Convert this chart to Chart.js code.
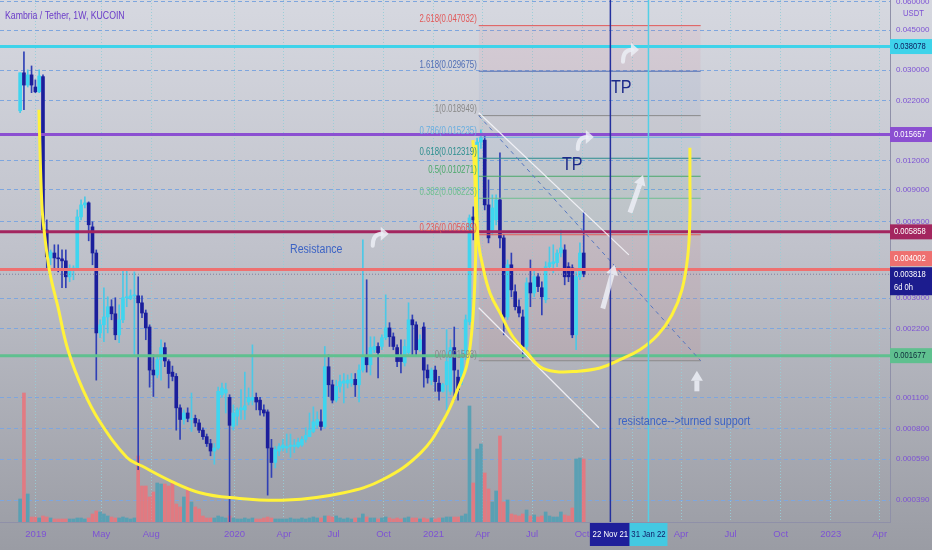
<!DOCTYPE html>
<html>
<head>
<meta charset="utf-8">
<script src="https://cdn.jsdelivr.net/npm/chart.js@4.4.1/dist/chart.umd.min.js"></script>
<style>
  html, body { margin: 0; padding: 0; }
  body { width: 932px; height: 550px; overflow: hidden;
         background: linear-gradient(180deg, #d6d8e0 0%, #c0c2cb 45%, #9a9ca4 100%); }
</style>
</head>
<body>
<canvas id="chart" width="932" height="550"></canvas>
<script>
// weekly candles KAI/USDT, first week starts 2018-12-03
var opens = [.0199,.0292,.0258,.0286,.0253,.0241,.0281,.00597,.00450,.00473,
  .00450,.00446,.00437,.00372,.00399,.00407,.00681,.00769,.00785,.00616,
  .00473,.00211,.00229,.00248,.00275,.00256,.00207,.00241,.00301,.00298,
  .00307,.00307,.00286,.00258,.00224,.00145,.00138,.00161,.00182,.00158,
  .00142,.00136,.00099,.00088,.00094,.00088,.00089,.00085,.00079,.00074,
  .00069,.00064,.00066,.00113,.00115,.00110,.00082,.00091,.00097,.00097,
  .00105,.00107,.00110,.00107,.00097,.00095,.00066,.00057,.00064,.00066,
  .00066,.00067,.00067,.00067,.00068,.00072,.00074,.00078,.00083,.00086,
  .00082,.00150,.00125,.00107,.00123,.00127,.00127,.00127,.00132,.00125,
  .00145,.00166,.00153,.00178,.00184,.00184,.00201,.00222,.00203,.00182,
  .00166,.00156,.00173,.00241,.00229,.00178,.00224,.00145,.00131,.00145,
  .00127,.00117,.00125,.00117,.00182,.00135,.00131,.00166,.00236,.00681,
  .00661,.0145,.0148,.00769,.00597,.00661,.00809,.00551,.00248,.00420,
  .00320,.00275,.00248,.00184,.00350,.00316,.00372,.00333,.00295,.00412,
  .00424,.00429,.00473,.00488,.00412,.00407,.00207,.00372,.00473];
var highs = [.0292,.0361,.0301,.0313,.0272,.0301,.0286,.00661,.00488,.00514,
  .00514,.00488,.00488,.00420,.00416,.00731,.00809,.00834,.00793,.00648,
  .00488,.00241,.00333,.00304,.00295,.00301,.00280,.00399,.00399,.00326,
  .00391,.00372,.00307,.00266,.00229,.00169,.00169,.00197,.00191,.00161,
  .00151,.00140,.00102,.00097,.00099,.00115,.00092,.00088,.00081,.00076,
  .00072,.00069,.00122,.00127,.00127,.00113,.00102,.00099,.00119,.00142,
  .00121,.00187,.00115,.00110,.00102,.00097,.00072,.00067,.00069,.00072,
  .00076,.00076,.00072,.00073,.00074,.00081,.00094,.00100,.00095,.00097,
  .00184,.00169,.00131,.00131,.00138,.00140,.00138,.00140,.00140,.00153,
  .00540,.00361,.00203,.00203,.00191,.00207,.00310,.00234,.00211,.00187,
  .00197,.00197,.00286,.00253,.00236,.00207,.00234,.00153,.00148,.00151,
  .00136,.00127,.00218,.00197,.00224,.00145,.00178,.00253,.00695,.00754,
  .0151,.0164,.0156,.00990,.00851,.00851,.0130,.00568,.00441,.00473,
  .00343,.00295,.00266,.00368,.00441,.00399,.00384,.00354,.00433,.00503,
  .00514,.00488,.00597,.00514,.00429,.00420,.00391,.00524,.00717];
var lows = [.0195,.0201,.0253,.0239,.0239,.0239,.00585,.00399,.00420,.00399,
  .00391,.00333,.00333,.00354,.00361,.00399,.00661,.00746,.00535,.00420,
  .00131,.00201,.00193,.00211,.00241,.00197,.00191,.00234,.00275,.00295,
  .00166,.00053,.00246,.00197,.00122,.00111,.00134,.00131,.00150,.00121,
  .00130,.00079,.00072,.00084,.00086,.00078,.00082,.00077,.00072,.00067,
  .00061,.00056,.00065,.00110,.00094,.00025,.00079,.00083,.00088,.00088,
  .00102,.00102,.00097,.00092,.00091,.00041,.00049,.00054,.00061,.00064,
  .00063,.00060,.00063,.00066,.00067,.00070,.00074,.00077,.00081,.00079,
  .00081,.00111,.00104,.00105,.00116,.00104,.00121,.00123,.00111,.00105,
  .00142,.00142,.00138,.00173,.00134,.00178,.00197,.00184,.00178,.00150,
  .00141,.00151,.00169,.00166,.00169,.00175,.00122,.00127,.00125,.00117,
  .00107,.00116,.00097,.00113,.00107,.00107,.00125,.00161,.00229,.00540,
  .00648,.0136,.00731,.00524,.00568,.00629,.00498,.00207,.00241,.00304,
  .00266,.00248,.00164,.00178,.00275,.00304,.00320,.00253,.00286,.00399,
  .00387,.00412,.00455,.00343,.00354,.00201,.00178,.00361,.00372];
var closes = [.0292,.0258,.0286,.0258,.0241,.0283,.00597,.00455,.00478,.00450,
  .00446,.00437,.00372,.00403,.00407,.00681,.00769,.00785,.00629,.00473,
  .00211,.00229,.00248,.00275,.00256,.00207,.00241,.00301,.00304,.00307,
  .00310,.00286,.00258,.00222,.00145,.00138,.00161,.00182,.00159,.00140,
  .00136,.00099,.00088,.00094,.00089,.00089,.00085,.00079,.00074,.00069,
  .00064,.00066,.00117,.00121,.00119,.00083,.00094,.00097,.00099,.00101,
  .00110,.00110,.00105,.00097,.00094,.00066,.00057,.00065,.00067,.00068,
  .00067,.00068,.00068,.00070,.00072,.00075,.00079,.00086,.00088,.00082,
  .00150,.00125,.00107,.00123,.00129,.00130,.00131,.00132,.00125,.00145,
  .00166,.00153,.00182,.00184,.00173,.00201,.00222,.00203,.00184,.00158,
  .00158,.00184,.00241,.00229,.00178,.00197,.00145,.00134,.00145,.00129,
  .00117,.00125,.00158,.00182,.00145,.00119,.00164,.00241,.00674,.00661,
  .0145,.0151,.00769,.00551,.00746,.00809,.00551,.00248,.00420,.00326,
  .00275,.00258,.00184,.00350,.00316,.00372,.00337,.00304,.00412,.00429,
  .00433,.00473,.00498,.00372,.00372,.00207,.00372,.00473,.003818];
var volumes = [23,129,28,5,5,4,6,5,4,3,
  3,3,3,3,3,4,4,3,4,8,
  11,10,8,6,5,4,4,5,4,3,
  4,66,36,36,25,30,39,38,38,36,
  41,18,15,25,35,20,15,13,6,4,
  4,4,6,5,4,6,4,3,3,4,
  3,4,3,3,4,5,4,3,3,3,
  3,4,3,3,4,3,4,5,4,4,
  6,6,5,6,4,3,4,3,4,4,
  8,5,4,4,3,4,5,4,3,4,
  3,4,5,4,4,3,4,3,4,3,
  4,4,5,5,5,5,6,8,116,39,
  73,78,49,33,20,31,86,20,22,8,
  7,6,8,12,6,7,5,6,10,6,
  5,5,10,7,6,14,63,64,63];

// x axis: days since 2019-01-01
var xTickDays = [0,120,212,365,456,547,639,731,821,912,1004,1096,1186,1277,1369,1461,1551];
var xTickLabels = ['2019','May','Aug','2020','Apr','Jul','Oct','2021','Apr','Jul','Oct','2022','Apr','Jul','Oct','2023','Apr'];
var yTicks = [0.06,0.045,0.03,0.022,0.012,0.009,0.0065,0.003,0.0022,0.0011,0.0008,0.00059,0.00039];

var levelPrices = [0.038078, 0.015657, 0.005858, 0.004002, 0.001677];
var lastPrice = 0.003818;
var fibRatios = [2.618, 1.618, 1, 0.786, 0.618, 0.5, 0.382, 0.236, 0];
var fibPrices = [0.047032, 0.029675, 0.018949, 0.015235, 0.012319, 0.010271, 0.008223, 0.005689, 0.001593];
var fibStart = 814, fibEnd = 1222;
var markerDays = [1056, 1126];
var markerLabels = ['22 Nov 21', '31 Jan 22'];

// hand drawn shapes, [day, price]
var bigCup = [[5.5,.0201],[11,.00769],[16.5,.00556],[25.7,.00387],[40.4,.00275],[58.8,.00178],
  [86.4,.00119],[117.6,.00086],[167.3,.00060],[194.9,.00055],[250,.00047],[301.5,.00042],
  [356.6,.00040],[461.4,.00039],[566.2,.00042],[637.9,.00048],[707.7,.00063],[750,.00088],
  [777.6,.00123],[792.3,.00153],[801.5,.00218],[807,.00361],[808.8,.00597],[807,.00990],[803.3,.0148]];
var smallCup = [[808.8,.0141],[812.5,.00557],[821.7,.00412],[834.6,.00316],[852.9,.00259],[876.8,.00203],
  [902.6,.00173],[926.5,.00150],[954,.00143],[990.8,.00143],[1036.8,.00148],[1073.5,.00161],
  [1110.3,.00178],[1143.4,.00207],[1169.1,.00253],[1187.5,.00326],[1198.5,.00464],[1202.2,.00695],
  [1202.2,.00990],[1202.2,.0137]];
var upperTrend = [[814,.0195],[1090,.00464]];
var lowerTrend = [[814,.00272],[1035,.00081]];

var FAMILY = "'Liberation Sans', Arial, sans-serif";
var X_MIN = -66, X_MAX = 1570;
var Y_MIN = 0.0003125, Y_MAX = 0.06093;
var AXIS_TEXT = '#7d52d4';
var ARROW = 'rgba(236,238,246,0.85)';

var levelColors = ['#3ed3ea', '#8b4fd1', '#a3265f', '#ee7070', '#5fc08f'];
var levelText = ['#0d1a5c', '#ffffff', '#ffffff', '#ffffff', '#0d2a3a'];
var fibColors = ['#e25858','#4f6eb5','#8a8a8a','#69aee0','#2c8e8e','#4aa86a','#6fbf8f','#e25858','#8a8a8a'];
var fibZones = ['rgba(226,88,110,0.08)','rgba(79,110,181,0.07)','rgba(140,140,140,0.06)','rgba(105,174,224,0.06)',
  'rgba(44,142,142,0.06)','rgba(74,168,106,0.06)','rgba(111,191,143,0.06)','rgba(226,88,88,0.09)'];

var firstWeek = -29;
var weekDays = opens.map(function (o, i) { return firstWeek + 7 * i; });
var isUp = closes.map(function (c, i) { return c >= opens[i]; });

function seg(points, style) {
  return Object.assign({ type: 'line', data: points.map(function (p) { return { x: p[0], y: p[1] }; }),
    pointRadius: 0, fill: false, borderWidth: 1 }, style);
}

var datasets = [];
datasets.push({ type: 'bar', yAxisID: 'yv', order: 40, grouped: false, barThickness: 3,
  data: weekDays.map(function (d, i) { return { x: d, y: volumes[i] }; }),
  backgroundColor: isUp.map(function (u) { return u ? 'rgba(84,160,180,0.92)' : 'rgba(230,118,126,0.92)'; }) });

for (var k = 0; k < fibPrices.length - 1; k++) {
  datasets.push(seg([[fibStart, fibPrices[k]], [fibEnd, fibPrices[k]]],
    { borderWidth: 0, fill: { value: fibPrices[k + 1] }, backgroundColor: fibZones[k], order: 35 }));
}

datasets.push({ type: 'bar', order: 30, grouped: false, barThickness: 1,
  data: weekDays.map(function (d, i) { return { x: d, y: [lows[i], highs[i]] }; }),
  backgroundColor: isUp.map(function (u) { return u ? '#4cc8e6' : '#3040b6'; }) });
datasets.push({ type: 'bar', order: 29, grouped: false, barThickness: 3, minBarLength: 1,
  data: weekDays.map(function (d, i) { return { x: d, y: [opens[i], closes[i]] }; }),
  backgroundColor: isUp.map(function (u) { return u ? '#3fd5ef' : '#1b1e9c'; }) });

fibPrices.forEach(function (p, k) {
  datasets.push(seg([[fibStart, p], [fibEnd, p]], { borderColor: fibColors[k], order: 25 }));
});
levelPrices.forEach(function (p, k) {
  datasets.push(seg([[X_MIN, p], [X_MAX, p]], { borderColor: levelColors[k], borderWidth: 3, order: 20 }));
});
datasets.push(seg([[X_MIN, lastPrice], [X_MAX, lastPrice]], { borderColor: '#7e80a0', borderDash: [1, 2], order: 19 }));

datasets.push(seg([[fibStart, fibPrices[2]], [fibEnd, fibPrices[8]]], { borderColor: '#5677c0', borderDash: [4, 4], order: 15 }));
datasets.push(seg(upperTrend, { borderColor: 'rgba(245,245,250,0.9)', borderWidth: 1.2, order: 15 }));
datasets.push(seg(lowerTrend, { borderColor: 'rgba(245,245,250,0.9)', borderWidth: 1.2, order: 15 }));

datasets.push(seg(bigCup, { borderColor: '#fff23a', borderWidth: 3, tension: 0.4, order: 10 }));
datasets.push(seg(smallCup, { borderColor: '#fff23a', borderWidth: 3, tension: 0.4, order: 10 }));

datasets.push(seg([[markerDays[0], 0.0001], [markerDays[0], 0.1]], { borderColor: '#24309e', borderWidth: 1.5, order: 5 }));
datasets.push(seg([[markerDays[1], 0.0001], [markerDays[1], 0.1]], { borderColor: '#52cfe6', borderWidth: 1.5, order: 5 }));

// narrow text: TradingView's font is condensed, squeeze Liberation Sans a bit
function text(ctx, str, x, y, size, squeeze, align) {
  ctx.save();
  ctx.font = size + 'px ' + FAMILY;
  ctx.textAlign = align || 'left';
  ctx.translate(x, y); ctx.scale(squeeze, 1);
  ctx.fillText(str, 0, 0);
  ctx.restore();
}
function curvedArrow(ctx, cx, cy) {
  ctx.strokeStyle = ARROW; ctx.fillStyle = ARROW; ctx.lineWidth = 4; ctx.lineCap = 'round';
  ctx.beginPath(); ctx.moveTo(cx - 7, cy + 9); ctx.quadraticCurveTo(cx - 7, cy - 3, cx + 2, cy - 3); ctx.stroke();
  ctx.beginPath(); ctx.moveTo(cx + 1, cy - 10); ctx.lineTo(cx + 9, cy - 3); ctx.lineTo(cx + 1, cy + 4); ctx.closePath(); ctx.fill();
}
function straightArrow(ctx, x1, y1, x2, y2) {
  var a = Math.atan2(y2 - y1, x2 - x1);
  var hx = x2 - 10 * Math.cos(a), hy = y2 - 10 * Math.sin(a);
  ctx.strokeStyle = ARROW; ctx.fillStyle = ARROW; ctx.lineWidth = 5; ctx.lineCap = 'butt';
  ctx.beginPath(); ctx.moveTo(x1, y1); ctx.lineTo(hx, hy); ctx.stroke();
  ctx.beginPath(); ctx.moveTo(x2, y2);
  ctx.lineTo(hx + 6 * Math.cos(a + Math.PI / 2), hy + 6 * Math.sin(a + Math.PI / 2));
  ctx.lineTo(hx - 6 * Math.cos(a + Math.PI / 2), hy - 6 * Math.sin(a + Math.PI / 2));
  ctx.closePath(); ctx.fill();
}
function tag(ctx, x, yc, w, h, bg, fg, lines) {
  ctx.fillStyle = bg; ctx.fillRect(x, yc - h / 2, w, h);
  ctx.fillStyle = fg; ctx.textBaseline = 'middle';
  lines.forEach(function (t, i) { text(ctx, t, x + 4, yc - (lines.length - 1) * 6.5 + i * 13, 9.5, 0.8); });
}

var overlay = {
  id: 'overlay',
  afterDatasetsDraw: function (chart) {
    var ctx = chart.ctx, sx = chart.scales.x, sy = chart.scales.y;
    var px = function (d) { return sx.getPixelForValue(d); };
    var py = function (v) { return sy.getPixelForValue(v); };
    ctx.save();
    ctx.textBaseline = 'bottom';
    fibRatios.forEach(function (r, k) {
      ctx.fillStyle = fibColors[k];
      text(ctx, r + '(' + fibPrices[k].toFixed(6) + ')', px(fibStart) - 2, py(fibPrices[k]) - 1, 10, 0.78, 'right');
    });
    ctx.textBaseline = 'middle';
    ctx.fillStyle = '#3c63c4';
    text(ctx, 'Resistance', px(467), py(0.00488), 12.5, 0.85);
    text(ctx, 'resistance-->turned support', px(1070), py(0.00086), 12, 0.9);
    ctx.fillStyle = '#1c2a8a';
    text(ctx, 'TP', px(1057), py(0.025), 19, 0.85);
    text(ctx, 'TP', px(967), py(0.0115), 19, 0.85);
    curvedArrow(ctx, px(632), py(0.00557));
    curvedArrow(ctx, px(1009), py(0.0148));
    curvedArrow(ctx, px(1092), py(0.0358));
    straightArrow(ctx, px(1042), py(0.0027), px(1064), py(0.0042));
    straightArrow(ctx, px(1092), py(0.00711), px(1116), py(0.0104));
    straightArrow(ctx, px(1215), py(0.00117), px(1215), py(0.00144));
    ctx.fillStyle = '#6b3cc9';
    text(ctx, 'Kambria / Tether, 1W, KUCOIN', 5, 16, 10.5, 0.83);
    ctx.restore();
  },
  afterDraw: function (chart) {
    var ctx = chart.ctx, sx = chart.scales.x, sy = chart.scales.y, area = chart.chartArea;
    ctx.save();
    ctx.fillStyle = AXIS_TEXT; ctx.textBaseline = 'middle';
    text(ctx, 'USDT', area.right + 13, 14, 9, 0.85);
    levelPrices.forEach(function (p, k) {
      var yc = sy.getPixelForValue(p) + (k === 3 ? -11 : 0);
      tag(ctx, area.right, yc, 42, 15, levelColors[k], levelText[k], [p.toFixed(6)]);
    });
    tag(ctx, area.right, sy.getPixelForValue(lastPrice) + 7, 42, 28, '#1c1c8e', '#ffffff', [lastPrice.toFixed(6), '6d 0h']);
    var w = [41, 38], bg = ['#1f1f9a', '#44c9e2'], fg = ['#ffffff', '#12206a'];
    markerDays.forEach(function (d, i) {
      var cx = sx.getPixelForValue(d);
      ctx.fillStyle = bg[i]; ctx.fillRect(cx - w[i] / 2, area.bottom + 1, w[i], 23);
      ctx.fillStyle = fg[i];
      text(ctx, markerLabels[i], cx, area.bottom + 12, 9.5, 0.82, 'center');
    });
    ctx.restore();
  }
};

function noPadding(s) { s.paddingTop = 0; s.paddingBottom = 0; s.paddingLeft = 0; s.paddingRight = 0; }

new Chart(document.getElementById('chart'), {
  type: 'bar',
  data: { datasets: datasets },
  plugins: [overlay],
  options: {
    responsive: false,
    animation: false,
    devicePixelRatio: 1,
    layout: { padding: 0 },
    plugins: { legend: { display: false }, tooltip: { enabled: false } },
    scales: {
      x: {
        type: 'linear', min: X_MIN, max: X_MAX, bounds: 'data', offset: false,
        afterBuildTicks: function (s) { s.ticks = xTickDays.map(function (v) { return { value: v }; }); },
        afterFit: function (s) { s.height = 28; noPadding(s); },
        ticks: { autoSkip: false, maxRotation: 0, padding: 7, color: AXIS_TEXT,
          font: { family: FAMILY, size: 9.5 },
          callback: function (v, i) { return xTickLabels[i]; } },
        grid: { color: 'rgba(150,205,215,0.9)', drawTicks: false, offset: false },
        border: { color: '#8f90a8', dash: [1, 2] }
      },
      y: {
        type: 'logarithmic', position: 'right', min: Y_MIN, max: Y_MAX, bounds: 'data',
        afterBuildTicks: function (s) { s.ticks = yTicks.map(function (v) { return { value: v }; }); },
        afterFit: function (s) { s.width = 42; noPadding(s); },
        ticks: { autoSkip: false, padding: 6, color: AXIS_TEXT,
          font: { family: FAMILY, size: 8 },
          callback: function (v) { return Number(v).toFixed(6); } },
        grid: { color: '#7ea6de', drawTicks: false },
        border: { color: '#8f90a8', dash: [4, 3] }
      },
      yv: { type: 'linear', display: false, min: 0, max: 522 }
    }
  }
});
</script>
</body>
</html>
